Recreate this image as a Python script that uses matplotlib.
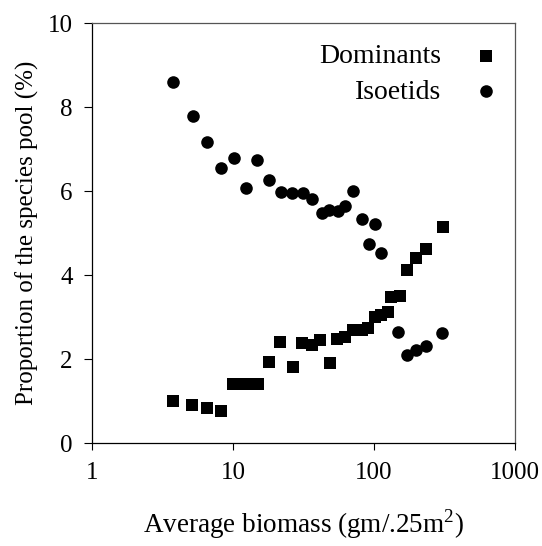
import matplotlib
matplotlib.use("Agg")
import matplotlib.pyplot as plt
from matplotlib.ticker import FixedLocator, NullLocator, FixedFormatter

plt.rcParams['font.family'] = ['Liberation Serif', 'DejaVu Serif']
plt.rcParams['mathtext.fontset'] = 'custom'
plt.rcParams['mathtext.rm'] = 'Liberation Serif'

dom_x = [3.77, 5.14, 6.5, 8.2, 10.0, 11.5, 13.2, 15.1, 18.1, 21.5, 26.8, 31, 36.5, 41.4,
         48.7, 54.3, 62.3, 71.3, 81.8, 91.2, 101.6, 113, 126, 133, 153, 171, 199, 234, 310]
dom_y = [1.0, 0.9, 0.83, 0.76, 1.4, 1.4, 1.4, 1.4, 1.92, 2.41, 1.82, 2.39, 2.33, 2.45,
         1.9, 2.47, 2.53, 2.69, 2.69, 2.73, 3.0, 3.05, 3.13, 3.47, 3.5, 4.13, 4.4, 4.61, 5.15]

iso_x = [3.77, 5.18, 6.54, 8.2, 10.1, 12.4, 14.9, 18.0, 21.9, 26.4, 31.5, 36.5, 42.6,
         48.2, 55.2, 62.3, 70.6, 81.8, 92.6, 101.6, 112, 149, 171, 199, 233, 302]
iso_y = [8.6, 7.79, 7.17, 6.54, 6.78, 6.08, 6.74, 6.26, 5.98, 5.96, 5.96, 5.81, 5.47,
         5.55, 5.53, 5.64, 6.0, 5.33, 4.75, 5.21, 4.52, 2.64, 2.1, 2.21, 2.32, 2.61]

x_ticks = [1, 10, 100, 1000]
x_tick_labels = ['1', '10', '100', '1000']
y_ticks = [0, 2, 4, 6, 8, 10]

fig = plt.figure(figsize=(5.42, 5.46), dpi=100)
ax = fig.add_axes([92/542, 1 - 443/546, (515 - 92)/542, (443 - 23)/546])

ax.scatter(dom_x, dom_y, marker='s', s=66, color='black', linewidths=0, label='Dominants', zorder=3)
ax.scatter(iso_x, iso_y, marker='o', s=82, color='black', linewidths=0, label='Isoetids', zorder=3)

ax.set_xscale('log')
ax.set_xlim(1, 1000)
ax.set_ylim(0, 10)
ax.xaxis.set_major_locator(FixedLocator(x_ticks))
ax.xaxis.set_major_formatter(FixedFormatter(x_tick_labels))
ax.xaxis.set_minor_locator(NullLocator())
ax.set_yticks(y_ticks)
ax.set_yticklabels([str(v) for v in y_ticks])

ax.tick_params(axis='both', direction='out', labelsize=18, width=0.8, colors='black')
ax.tick_params(axis='y', length=6, pad=8)
ax.tick_params(axis='x', length=5, pad=9)

for side in ['left', 'bottom']:
    ax.spines[side].set_linewidth(0.9)
    ax.spines[side].set_color('black')
for side in ['top', 'right']:
    ax.spines[side].set_linewidth(0.9)
    ax.spines[side].set_color('#555555')

ax.set_xlabel('Average biomass (gm/.25m$^2$)', fontsize=19.5, labelpad=16)
ax.set_ylabel('Proportion of the species pool (%)', fontsize=18, labelpad=6)

leg = ax.legend(loc='upper right', bbox_to_anchor=(0.983, 0.95), frameon=False,
                markerfirst=False, fontsize=20, handletextpad=0.8, handlelength=1.6,
                labelspacing=0.35, borderaxespad=0, borderpad=0)

fig.savefig('out.png', dpi=100)
